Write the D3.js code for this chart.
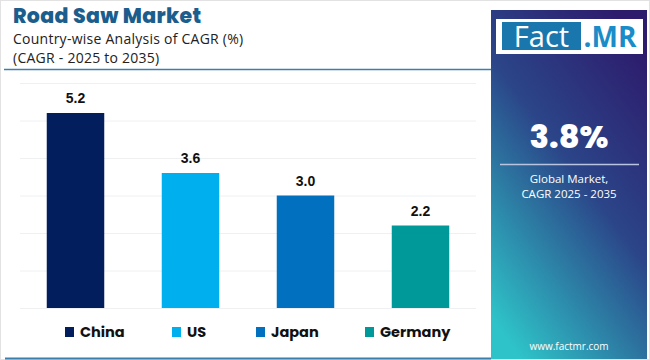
<!DOCTYPE html>
<html><head><meta charset="utf-8">
<script src="https://cdn.jsdelivr.net/npm/d3@7"></script>
<style>body{margin:0;background:#fff;}svg{display:block;}</style>
</head><body>
<script>
const categories = ["China", "US", "Japan", "Germany"];
const values = [5.2, 3.6, 3.0, 2.2];
const colors = ["#021e5c", "#00b0ee", "#0070bf", "#00999a"];
const gridTicks = [0, 1, 2, 3, 4, 5, 6];
const titleText = "Road Saw Market";
const subtitleLines = ["Country-wise Analysis of CAGR (%)", "(CAGR - 2025 to 2035)"];
const globalValue = "3.8%";
const globalLabel = ["Global Market,", "CAGR 2025 - 2035"];

const W = 650, H = 360;
const svg = d3.select("body").append("svg").attr("width", W).attr("height", H);

// outer border
svg.append("rect").attr("x", 0.5).attr("y", 0.5).attr("width", W - 1).attr("height", H - 1)
  .attr("fill", "#fff").attr("stroke", "#e2e2e2");

// title
svg.append("text").attr("x", 13).attr("y", 23).text(titleText)
  .attr("font-family", "Poppins, 'Open Sans', sans-serif").attr("font-weight", 800)
  .attr("font-size", 20.5).attr("letter-spacing", 0.3).attr("fill", "#1b5e8d");
subtitleLines.forEach((t, i) => {
  svg.append("text").attr("x", 13).attr("y", 44 + i * 19).text(t)
    .attr("font-family", "'Open Sans', sans-serif").attr("font-size", 14).attr("letter-spacing", 0.25).attr("fill", "#222");
});
// divider lines
svg.append("line").attr("x1", 4).attr("x2", 491).attr("y1", 69.5).attr("y2", 69.5)
  .attr("stroke", "#3d7eaa").attr("stroke-width", 1.5);
svg.append("line").attr("x1", 5).attr("x2", 491).attr("y1", 358.5).attr("y2", 358.5)
  .attr("stroke", "#3d7eaa").attr("stroke-width", 2);

// scales
const x = d3.scaleBand().domain(categories).range([18, 478]).paddingInner(0.5).paddingOuter(0.25);
const y = d3.scaleLinear().domain([0, 6]).range([308, 83]);

// gridlines
svg.append("g").selectAll("line").data(gridTicks).join("line")
  .attr("x1", 20).attr("x2", 476)
  .attr("y1", d => y(d) + 0.5).attr("y2", d => y(d) + 0.5)
  .attr("stroke", "#eef0f2").attr("stroke-width", 1);

// bars
svg.append("g").selectAll("rect").data(categories).join("rect")
  .attr("x", d => x(d)).attr("width", x.bandwidth())
  .attr("y", (d, i) => y(values[i])).attr("height", (d, i) => y(0) - y(values[i]))
  .attr("fill", (d, i) => colors[i]);

// labels
svg.append("g").selectAll("text").data(categories).join("text")
  .attr("x", d => x(d) + x.bandwidth() / 2)
  .attr("y", (d, i) => y(values[i]) - 10)
  .attr("text-anchor", "middle")
  .attr("font-family", "'Liberation Sans', Arial, sans-serif").attr("font-weight", 700)
  .attr("font-size", 14).attr("fill", "#111")
  .text((d, i) => values[i].toFixed(1));

// legend
const legendX = [65, 172, 256, 365];
const lg = svg.append("g").selectAll("g").data(categories).join("g")
  .attr("transform", (d, i) => `translate(${legendX[i]},327)`);
lg.append("rect").attr("width", 9).attr("height", 10).attr("fill", (d, i) => colors[i]);
lg.append("text").attr("x", 15).attr("y", 10).text(d => d)
  .attr("font-family", "Poppins, 'Open Sans', sans-serif").attr("font-weight", 700)
  .attr("font-size", 14.5).attr("fill", "#111");

// right panel
const defs = svg.append("defs");
const grad = defs.append("linearGradient").attr("id", "pg")
  .attr("x1", "0.8").attr("y1", "0").attr("x2", "0.2").attr("y2", "1");
grad.append("stop").attr("offset", "0%").attr("stop-color", "#2d1b6c");
grad.append("stop").attr("offset", "45%").attr("stop-color", "#2b4588");
grad.append("stop").attr("offset", "100%").attr("stop-color", "#2ec3c8");
svg.append("rect").attr("x", 491).attr("y", 10).attr("width", 156).attr("height", 349).attr("fill", "url(#pg)");

// logo
svg.append("rect").attr("x", 496).attr("y", 19).attr("width", 147).attr("height", 35).attr("fill", "#fff");
svg.append("rect").attr("x", 502).attr("y", 22).attr("width", 79).attr("height", 28).attr("fill", "#1a77ad");
svg.append("text").attr("x", 541.5).attr("y", 47).attr("text-anchor", "middle").text("Fact")
  .attr("font-family", "'Open Sans', sans-serif").attr("font-size", 29).attr("fill", "#fff");
svg.append("text").attr("x", 610).attr("y", 47).attr("text-anchor", "middle").text(".MR")
  .attr("font-family", "'Open Sans', sans-serif").attr("font-weight", 700)
  .attr("font-size", 28).attr("fill", "#1a8cc8");

svg.append("text").attr("x", 569).attr("y", 148).attr("text-anchor", "middle").text(globalValue)
  .attr("font-family", "Poppins, 'Open Sans', sans-serif").attr("font-weight", 800)
  .attr("font-size", 32).attr("fill", "#fff");
svg.append("line").attr("x1", 500).attr("x2", 639).attr("y1", 164.5).attr("y2", 164.5)
  .attr("stroke", "#b8c4e0").attr("stroke-width", 1.5);
globalLabel.forEach((t, i) => {
  svg.append("text").attr("x", 569).attr("y", 183 + i * 15).attr("text-anchor", "middle").text(t)
    .attr("font-family", "'Open Sans', sans-serif").attr("font-size", 11.5).attr("fill", "#fff");
});
svg.append("text").attr("x", 569).attr("y", 350).attr("text-anchor", "middle").text("www.factmr.com")
  .attr("font-family", "'Open Sans', sans-serif").attr("font-size", 10).attr("fill", "#fff");
</script>
</body></html>
